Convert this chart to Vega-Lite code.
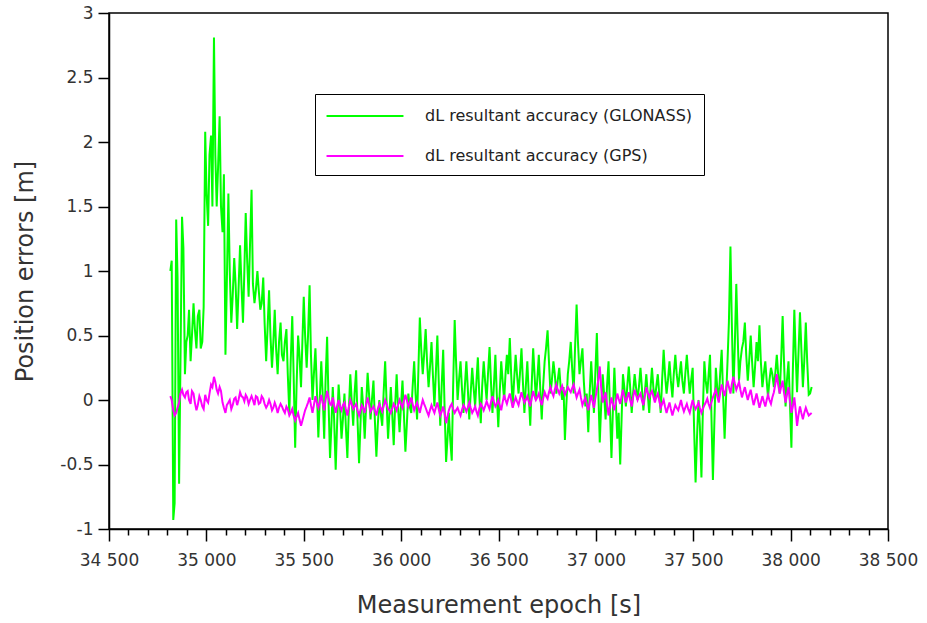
{
  "$schema": "https://vega.github.io/schema/vega-lite/v6.json",
  "width": 779,
  "height": 516,
  "autosize": {"type": "none"},
  "padding": {"left": 109, "top": 13, "right": 39, "bottom": 94},
  "background": "white",
  "config": {
    "view": {"stroke": "black", "strokeWidth": 1.5},
    "font": "DejaVu Sans"
  },
  "data": {
    "values": [
      {"t":34815,"GLONASS":1.0,"GPS":0.03},{"t":34830,"GLONASS":-0.93,"GPS":-0.08},{"t":34845,"GLONASS":1.4,"GPS":-0.1},{"t":34860,"GLONASS":-0.65,"GPS":-0.02},
      {"t":34875,"GLONASS":1.42,"GPS":0.08},{"t":34890,"GLONASS":0.2,"GPS":0.02},{"t":34904,"GLONASS":0.5,"GPS":0.07},{"t":34919,"GLONASS":0.3,"GPS":-0.03},
      {"t":34934,"GLONASS":0.75,"GPS":0.05},{"t":34949,"GLONASS":0.4,"GPS":-0.08},{"t":34964,"GLONASS":0.7,"GPS":0.03},{"t":34979,"GLONASS":0.45,"GPS":-0.05},
      {"t":34994,"GLONASS":2.08,"GPS":0.04},{"t":35009,"GLONASS":1.35,"GPS":-0.02},{"t":35024,"GLONASS":2.05,"GPS":0.12},{"t":35039,"GLONASS":2.81,"GPS":0.18},
      {"t":35053,"GLONASS":1.5,"GPS":0.08},{"t":35068,"GLONASS":2.2,"GPS":0.1},{"t":35083,"GLONASS":1.3,"GPS":-0.02},{"t":35098,"GLONASS":0.35,"GPS":-0.1},
      {"t":35113,"GLONASS":1.6,"GPS":-0.02},{"t":35128,"GLONASS":0.6,"GPS":-0.07},{"t":35143,"GLONASS":1.1,"GPS":0.01},{"t":35158,"GLONASS":0.55,"GPS":-0.04},
      {"t":35173,"GLONASS":1.2,"GPS":0.06},{"t":35188,"GLONASS":0.6,"GPS":0.02},{"t":35202,"GLONASS":1.45,"GPS":0.04},{"t":35217,"GLONASS":0.8,"GPS":-0.03},
      {"t":35232,"GLONASS":1.63,"GPS":0.03},{"t":35247,"GLONASS":0.75,"GPS":-0.04},{"t":35262,"GLONASS":1.0,"GPS":0.02},{"t":35277,"GLONASS":0.7,"GPS":-0.02},
      {"t":35292,"GLONASS":0.95,"GPS":0.01},{"t":35307,"GLONASS":0.3,"GPS":-0.06},{"t":35322,"GLONASS":0.85,"GPS":0.0},{"t":35337,"GLONASS":0.25,"GPS":-0.08},
      {"t":35351,"GLONASS":0.7,"GPS":-0.02},{"t":35366,"GLONASS":0.2,"GPS":-0.1},{"t":35381,"GLONASS":0.6,"GPS":-0.03},{"t":35396,"GLONASS":0.3,"GPS":-0.08},
      {"t":35411,"GLONASS":0.55,"GPS":-0.05},{"t":35426,"GLONASS":-0.1,"GPS":-0.12},{"t":35441,"GLONASS":0.65,"GPS":-0.07},{"t":35456,"GLONASS":-0.37,"GPS":-0.16},
      {"t":35471,"GLONASS":0.5,"GPS":-0.1},{"t":35486,"GLONASS":0.1,"GPS":-0.2},{"t":35500,"GLONASS":0.8,"GPS":-0.12},{"t":35515,"GLONASS":0.25,"GPS":-0.05},
      {"t":35530,"GLONASS":0.89,"GPS":0.02},{"t":35545,"GLONASS":0.0,"GPS":-0.1},{"t":35560,"GLONASS":0.4,"GPS":0.03},{"t":35575,"GLONASS":-0.29,"GPS":-0.06},
      {"t":35590,"GLONASS":0.3,"GPS":0.04},{"t":35605,"GLONASS":-0.3,"GPS":-0.08},{"t":35620,"GLONASS":0.49,"GPS":0.07},{"t":35635,"GLONASS":-0.45,"GPS":-0.03},
      {"t":35649,"GLONASS":0.1,"GPS":0.02},{"t":35664,"GLONASS":-0.54,"GPS":-0.1},{"t":35679,"GLONASS":0.12,"GPS":0.0},{"t":35694,"GLONASS":-0.3,"GPS":-0.08},
      {"t":35709,"GLONASS":0.05,"GPS":-0.02},{"t":35724,"GLONASS":-0.45,"GPS":-0.12},{"t":35739,"GLONASS":0.2,"GPS":0.0},{"t":35754,"GLONASS":-0.2,"GPS":-0.07},
      {"t":35769,"GLONASS":0.23,"GPS":-0.03},{"t":35784,"GLONASS":-0.49,"GPS":-0.12},{"t":35798,"GLONASS":0.1,"GPS":-0.04},{"t":35813,"GLONASS":-0.3,"GPS":-0.1},
      {"t":35828,"GLONASS":0.21,"GPS":0.02},{"t":35843,"GLONASS":-0.15,"GPS":-0.09},{"t":35858,"GLONASS":0.15,"GPS":-0.05},{"t":35873,"GLONASS":-0.44,"GPS":-0.12},
      {"t":35888,"GLONASS":0.0,"GPS":-0.03},{"t":35903,"GLONASS":-0.2,"GPS":-0.09},{"t":35918,"GLONASS":0.3,"GPS":0.0},{"t":35933,"GLONASS":-0.3,"GPS":-0.07},
      {"t":35947,"GLONASS":0.1,"GPS":-0.1},{"t":35962,"GLONASS":-0.35,"GPS":-0.03},{"t":35977,"GLONASS":0.2,"GPS":-0.08},{"t":35992,"GLONASS":-0.25,"GPS":0.0},
      {"t":36007,"GLONASS":0.15,"GPS":-0.06},{"t":36022,"GLONASS":-0.4,"GPS":0.04},{"t":36037,"GLONASS":0.05,"GPS":-0.05},{"t":36052,"GLONASS":-0.1,"GPS":0.02},
      {"t":36067,"GLONASS":0.3,"GPS":-0.08},{"t":36082,"GLONASS":-0.15,"GPS":-0.02},{"t":36096,"GLONASS":0.64,"GPS":-0.1},{"t":36111,"GLONASS":0.2,"GPS":0.0},
      {"t":36126,"GLONASS":0.55,"GPS":-0.06},{"t":36141,"GLONASS":0.1,"GPS":-0.12},{"t":36156,"GLONASS":0.45,"GPS":-0.04},{"t":36171,"GLONASS":-0.05,"GPS":-0.1},
      {"t":36186,"GLONASS":0.5,"GPS":-0.02},{"t":36201,"GLONASS":-0.2,"GPS":-0.12},{"t":36216,"GLONASS":0.39,"GPS":-0.05},{"t":36231,"GLONASS":-0.48,"GPS":-0.18},
      {"t":36245,"GLONASS":-0.1,"GPS":-0.08},{"t":36260,"GLONASS":-0.47,"GPS":-0.03},{"t":36275,"GLONASS":0.62,"GPS":-0.1},{"t":36290,"GLONASS":0.0,"GPS":-0.06},
      {"t":36305,"GLONASS":0.3,"GPS":-0.12},{"t":36320,"GLONASS":-0.1,"GPS":-0.04},{"t":36335,"GLONASS":0.3,"GPS":-0.09},{"t":36350,"GLONASS":-0.15,"GPS":-0.02},
      {"t":36365,"GLONASS":0.25,"GPS":-0.1},{"t":36380,"GLONASS":-0.05,"GPS":-0.05},{"t":36394,"GLONASS":0.33,"GPS":-0.12},{"t":36409,"GLONASS":-0.18,"GPS":-0.03},
      {"t":36424,"GLONASS":0.3,"GPS":-0.08},{"t":36439,"GLONASS":0.0,"GPS":-0.01},{"t":36454,"GLONASS":0.41,"GPS":-0.07},{"t":36469,"GLONASS":-0.1,"GPS":0.03},
      {"t":36484,"GLONASS":0.35,"GPS":-0.05},{"t":36499,"GLONASS":-0.21,"GPS":0.0},{"t":36514,"GLONASS":0.3,"GPS":-0.08},{"t":36529,"GLONASS":0.0,"GPS":0.04},
      {"t":36543,"GLONASS":0.35,"GPS":-0.03},{"t":36558,"GLONASS":0.48,"GPS":0.05},{"t":36573,"GLONASS":-0.05,"GPS":-0.06},{"t":36588,"GLONASS":0.35,"GPS":0.02},
      {"t":36603,"GLONASS":0.05,"GPS":-0.04},{"t":36618,"GLONASS":0.4,"GPS":0.06},{"t":36633,"GLONASS":-0.1,"GPS":-0.02},{"t":36648,"GLONASS":0.3,"GPS":0.03},
      {"t":36663,"GLONASS":-0.2,"GPS":-0.05},{"t":36678,"GLONASS":0.4,"GPS":0.07},{"t":36692,"GLONASS":0.0,"GPS":0.0},{"t":36707,"GLONASS":0.35,"GPS":0.05},
      {"t":36722,"GLONASS":-0.15,"GPS":-0.04},{"t":36737,"GLONASS":0.3,"GPS":0.06},{"t":36752,"GLONASS":0.54,"GPS":0.01},{"t":36767,"GLONASS":0.05,"GPS":0.1},
      {"t":36782,"GLONASS":0.3,"GPS":0.03},{"t":36797,"GLONASS":0.05,"GPS":0.12},{"t":36812,"GLONASS":0.25,"GPS":0.05},{"t":36827,"GLONASS":0.0,"GPS":0.11},
      {"t":36841,"GLONASS":-0.31,"GPS":0.04},{"t":36856,"GLONASS":0.2,"GPS":0.1},{"t":36871,"GLONASS":0.45,"GPS":0.06},{"t":36886,"GLONASS":0.05,"GPS":0.12},
      {"t":36901,"GLONASS":0.74,"GPS":0.02},{"t":36916,"GLONASS":0.2,"GPS":0.08},{"t":36931,"GLONASS":0.4,"GPS":-0.04},{"t":36946,"GLONASS":-0.05,"GPS":0.02},
      {"t":36961,"GLONASS":-0.25,"GPS":-0.08},{"t":36976,"GLONASS":0.3,"GPS":0.04},{"t":36990,"GLONASS":-0.1,"GPS":-0.06},{"t":37005,"GLONASS":0.52,"GPS":0.08},
      {"t":37020,"GLONASS":-0.33,"GPS":0.26},{"t":37035,"GLONASS":0.2,"GPS":-0.02},{"t":37050,"GLONASS":-0.15,"GPS":0.06},{"t":37065,"GLONASS":0.3,"GPS":-0.12},
      {"t":37080,"GLONASS":-0.45,"GPS":0.02},{"t":37095,"GLONASS":0.25,"GPS":-0.08},{"t":37110,"GLONASS":-0.3,"GPS":0.05},{"t":37125,"GLONASS":-0.5,"GPS":-0.03},
      {"t":37139,"GLONASS":0.2,"GPS":0.08},{"t":37154,"GLONASS":-0.05,"GPS":-0.02},{"t":37169,"GLONASS":0.26,"GPS":0.06},{"t":37184,"GLONASS":-0.1,"GPS":-0.05},
      {"t":37199,"GLONASS":0.2,"GPS":0.08},{"t":37214,"GLONASS":0.0,"GPS":0.0},{"t":37229,"GLONASS":0.25,"GPS":0.05},{"t":37244,"GLONASS":-0.08,"GPS":-0.04},
      {"t":37259,"GLONASS":0.2,"GPS":0.1},{"t":37274,"GLONASS":-0.1,"GPS":0.02},{"t":37288,"GLONASS":0.25,"GPS":0.07},{"t":37303,"GLONASS":0.0,"GPS":-0.02},
      {"t":37318,"GLONASS":0.2,"GPS":0.05},{"t":37333,"GLONASS":-0.1,"GPS":-0.06},{"t":37348,"GLONASS":0.39,"GPS":0.0},{"t":37363,"GLONASS":0.05,"GPS":-0.1},
      {"t":37378,"GLONASS":0.3,"GPS":-0.02},{"t":37393,"GLONASS":0.02,"GPS":-0.12},{"t":37408,"GLONASS":0.35,"GPS":-0.04},{"t":37423,"GLONASS":0.1,"GPS":-0.08},
      {"t":37437,"GLONASS":0.3,"GPS":0.0},{"t":37452,"GLONASS":0.05,"GPS":-0.09},{"t":37467,"GLONASS":0.35,"GPS":-0.03},{"t":37482,"GLONASS":0.05,"GPS":-0.1},
      {"t":37497,"GLONASS":0.25,"GPS":0.0},{"t":37512,"GLONASS":-0.64,"GPS":-0.07},{"t":37527,"GLONASS":0.0,"GPS":-0.02},{"t":37542,"GLONASS":-0.6,"GPS":-0.1},
      {"t":37557,"GLONASS":0.3,"GPS":-0.04},{"t":37572,"GLONASS":0.05,"GPS":0.01},{"t":37586,"GLONASS":0.35,"GPS":-0.06},{"t":37601,"GLONASS":-0.62,"GPS":0.02},
      {"t":37616,"GLONASS":0.25,"GPS":0.08},{"t":37631,"GLONASS":0.0,"GPS":-0.02},{"t":37646,"GLONASS":0.39,"GPS":0.12},{"t":37661,"GLONASS":-0.3,"GPS":0.03},
      {"t":37676,"GLONASS":0.3,"GPS":0.15},{"t":37691,"GLONASS":1.19,"GPS":0.05},{"t":37706,"GLONASS":0.05,"GPS":0.18},{"t":37721,"GLONASS":0.9,"GPS":0.08},
      {"t":37735,"GLONASS":0.15,"GPS":0.14},{"t":37750,"GLONASS":0.4,"GPS":0.02},{"t":37765,"GLONASS":0.6,"GPS":0.1},{"t":37780,"GLONASS":0.15,"GPS":0.0},
      {"t":37795,"GLONASS":0.5,"GPS":0.08},{"t":37810,"GLONASS":0.1,"GPS":-0.04},{"t":37825,"GLONASS":0.45,"GPS":0.05},{"t":37840,"GLONASS":0.58,"GPS":-0.06},
      {"t":37855,"GLONASS":0.1,"GPS":0.03},{"t":37870,"GLONASS":0.3,"GPS":-0.05},{"t":37884,"GLONASS":0.02,"GPS":0.04},{"t":37899,"GLONASS":0.25,"GPS":-0.03},
      {"t":37914,"GLONASS":0.1,"GPS":0.06},{"t":37929,"GLONASS":0.35,"GPS":0.2},{"t":37944,"GLONASS":0.05,"GPS":0.05},{"t":37959,"GLONASS":0.65,"GPS":0.15},
      {"t":37974,"GLONASS":-0.05,"GPS":-0.02},{"t":37989,"GLONASS":0.3,"GPS":0.1},{"t":38004,"GLONASS":-0.37,"GPS":-0.1},{"t":38019,"GLONASS":0.7,"GPS":0.02},
      {"t":38033,"GLONASS":0.06,"GPS":-0.2},{"t":38048,"GLONASS":0.68,"GPS":-0.05},{"t":38063,"GLONASS":0.1,"GPS":-0.15},{"t":38078,"GLONASS":0.6,"GPS":-0.06},
      {"t":38093,"GLONASS":0.04,"GPS":-0.12},{"t":38108,"GLONASS":0.1,"GPS":-0.1},

      {"t":34822,"GLONASS":1.08,"GPS":0.0},{"t":34837,"GLONASS":-0.8,"GPS":-0.12},{"t":34852,"GLONASS":0.95,"GPS":-0.06},{"t":34867,"GLONASS":0.3,"GPS":0.05},
      {"t":34882,"GLONASS":1.18,"GPS":0.04},{"t":34897,"GLONASS":0.45,"GPS":0.06},{"t":34911,"GLONASS":0.7,"GPS":0.0},{"t":34926,"GLONASS":0.5,"GPS":0.07},
      {"t":34941,"GLONASS":0.55,"GPS":-0.02},{"t":34956,"GLONASS":0.65,"GPS":-0.04},{"t":34971,"GLONASS":0.4,"GPS":0.0},{"t":34986,"GLONASS":0.72,"GPS":-0.07},
      {"t":35001,"GLONASS":1.6,"GPS":0.0},{"t":35016,"GLONASS":1.9,"GPS":0.05},{"t":35031,"GLONASS":1.5,"GPS":0.1},{"t":35046,"GLONASS":1.9,"GPS":0.14},
      {"t":35060,"GLONASS":1.8,"GPS":0.05},{"t":35075,"GLONASS":1.5,"GPS":0.07},{"t":35090,"GLONASS":1.75,"GPS":-0.06},{"t":35105,"GLONASS":0.9,"GPS":-0.04},
      {"t":35120,"GLONASS":1.0,"GPS":0.0},{"t":35135,"GLONASS":0.8,"GPS":-0.04},{"t":35150,"GLONASS":0.9,"GPS":0.02},{"t":35165,"GLONASS":0.85,"GPS":0.0},
      {"t":35180,"GLONASS":0.9,"GPS":0.03},{"t":35195,"GLONASS":1.0,"GPS":-0.01},{"t":35209,"GLONASS":1.1,"GPS":0.02},{"t":35224,"GLONASS":1.2,"GPS":0.0},
      {"t":35239,"GLONASS":0.9,"GPS":0.0},{"t":35254,"GLONASS":0.85,"GPS":0.03},{"t":35269,"GLONASS":0.85,"GPS":-0.03},{"t":35284,"GLONASS":0.75,"GPS":0.03},
      {"t":35299,"GLONASS":0.6,"GPS":-0.03},{"t":35314,"GLONASS":0.55,"GPS":-0.04},{"t":35329,"GLONASS":0.5,"GPS":-0.03},{"t":35344,"GLONASS":0.45,"GPS":-0.06},
      {"t":35358,"GLONASS":0.4,"GPS":-0.05},{"t":35373,"GLONASS":0.45,"GPS":-0.06},{"t":35388,"GLONASS":0.35,"GPS":-0.05},{"t":35403,"GLONASS":0.45,"GPS":-0.1},
      {"t":35418,"GLONASS":0.2,"GPS":-0.07},{"t":35433,"GLONASS":0.3,"GPS":-0.1},{"t":35448,"GLONASS":0.2,"GPS":-0.12},{"t":35463,"GLONASS":0.1,"GPS":-0.13},
      {"t":35478,"GLONASS":0.35,"GPS":-0.15},{"t":35493,"GLONASS":0.45,"GPS":-0.16},{"t":35507,"GLONASS":0.5,"GPS":-0.08},{"t":35522,"GLONASS":0.5,"GPS":-0.02},
      {"t":35537,"GLONASS":0.35,"GPS":-0.04},{"t":35552,"GLONASS":0.2,"GPS":-0.04},{"t":35567,"GLONASS":0.1,"GPS":-0.02},{"t":35582,"GLONASS":0.0,"GPS":-0.02},
      {"t":35597,"GLONASS":0.05,"GPS":-0.02},{"t":35612,"GLONASS":0.15,"GPS":0.0},{"t":35627,"GLONASS":0.0,"GPS":0.02},{"t":35642,"GLONASS":-0.2,"GPS":-0.04},
      {"t":35656,"GLONASS":-0.15,"GPS":-0.04},{"t":35671,"GLONASS":-0.2,"GPS":-0.05},{"t":35686,"GLONASS":-0.05,"GPS":-0.05},{"t":35701,"GLONASS":-0.15,"GPS":-0.04},
      {"t":35716,"GLONASS":-0.2,"GPS":-0.07},{"t":35731,"GLONASS":-0.1,"GPS":-0.06},{"t":35746,"GLONASS":0.0,"GPS":-0.03},{"t":35761,"GLONASS":0.05,"GPS":-0.05},
      {"t":35776,"GLONASS":-0.15,"GPS":-0.08},{"t":35791,"GLONASS":-0.2,"GPS":-0.08},{"t":35805,"GLONASS":-0.05,"GPS":-0.06},{"t":35820,"GLONASS":-0.05,"GPS":-0.04},
      {"t":35835,"GLONASS":0.05,"GPS":-0.03},{"t":35850,"GLONASS":0.0,"GPS":-0.07},{"t":35865,"GLONASS":-0.15,"GPS":-0.08},{"t":35880,"GLONASS":-0.2,"GPS":-0.07},
      {"t":35895,"GLONASS":-0.1,"GPS":-0.06},{"t":35910,"GLONASS":0.05,"GPS":-0.05},{"t":35925,"GLONASS":0.0,"GPS":-0.03},{"t":35940,"GLONASS":-0.1,"GPS":-0.08},
      {"t":35954,"GLONASS":-0.1,"GPS":-0.07},{"t":35969,"GLONASS":-0.05,"GPS":-0.05},{"t":35984,"GLONASS":-0.05,"GPS":-0.04},{"t":35999,"GLONASS":-0.05,"GPS":-0.03},
      {"t":36014,"GLONASS":-0.1,"GPS":-0.01},{"t":36029,"GLONASS":-0.2,"GPS":0.0},{"t":36044,"GLONASS":-0.05,"GPS":-0.02},{"t":36059,"GLONASS":0.1,"GPS":-0.03},
      {"t":36074,"GLONASS":0.05,"GPS":-0.05},{"t":36089,"GLONASS":0.25,"GPS":-0.06},{"t":36103,"GLONASS":0.4,"GPS":-0.05},{"t":36118,"GLONASS":0.35,"GPS":-0.03},
      {"t":36133,"GLONASS":0.3,"GPS":-0.09},{"t":36148,"GLONASS":0.25,"GPS":-0.08},{"t":36163,"GLONASS":0.2,"GPS":-0.07},{"t":36178,"GLONASS":0.2,"GPS":-0.06},
      {"t":36193,"GLONASS":0.15,"GPS":-0.07},{"t":36208,"GLONASS":0.1,"GPS":-0.09},{"t":36223,"GLONASS":-0.05,"GPS":-0.1},{"t":36238,"GLONASS":-0.3,"GPS":-0.13},
      {"t":36252,"GLONASS":-0.3,"GPS":-0.05},{"t":36267,"GLONASS":0.1,"GPS":-0.07},{"t":36282,"GLONASS":0.3,"GPS":-0.08},{"t":36297,"GLONASS":0.15,"GPS":-0.09},
      {"t":36312,"GLONASS":0.1,"GPS":-0.08},{"t":36327,"GLONASS":0.1,"GPS":-0.06},{"t":36342,"GLONASS":0.1,"GPS":-0.06},{"t":36357,"GLONASS":0.05,"GPS":-0.06},
      {"t":36372,"GLONASS":0.1,"GPS":-0.08},{"t":36387,"GLONASS":0.15,"GPS":-0.09},{"t":36401,"GLONASS":0.05,"GPS":-0.07},{"t":36416,"GLONASS":0.1,"GPS":-0.05},
      {"t":36431,"GLONASS":0.15,"GPS":-0.05},{"t":36446,"GLONASS":0.2,"GPS":-0.04},{"t":36461,"GLONASS":0.15,"GPS":-0.02},{"t":36476,"GLONASS":0.1,"GPS":-0.01},
      {"t":36491,"GLONASS":0.05,"GPS":-0.03},{"t":36506,"GLONASS":0.05,"GPS":-0.04},{"t":36521,"GLONASS":0.15,"GPS":-0.02},{"t":36536,"GLONASS":0.2,"GPS":0.0},
      {"t":36550,"GLONASS":0.2,"GPS":0.01},{"t":36565,"GLONASS":0.2,"GPS":0.0},{"t":36580,"GLONASS":0.15,"GPS":-0.02},{"t":36595,"GLONASS":0.2,"GPS":-0.01},
      {"t":36610,"GLONASS":0.2,"GPS":0.01},{"t":36625,"GLONASS":0.15,"GPS":0.02},{"t":36640,"GLONASS":0.1,"GPS":0.0},{"t":36655,"GLONASS":0.05,"GPS":-0.01},
      {"t":36670,"GLONASS":0.1,"GPS":0.01},{"t":36685,"GLONASS":0.2,"GPS":0.03},{"t":36699,"GLONASS":0.15,"GPS":0.02},{"t":36714,"GLONASS":0.1,"GPS":0.0},
      {"t":36729,"GLONASS":0.1,"GPS":0.01},{"t":36744,"GLONASS":0.4,"GPS":0.03},{"t":36759,"GLONASS":0.3,"GPS":0.06},{"t":36774,"GLONASS":0.15,"GPS":0.06},
      {"t":36789,"GLONASS":0.2,"GPS":0.08},{"t":36804,"GLONASS":0.15,"GPS":0.08},{"t":36819,"GLONASS":0.1,"GPS":0.08},{"t":36834,"GLONASS":0.1,"GPS":0.07},
      {"t":36848,"GLONASS":-0.05,"GPS":0.07},{"t":36863,"GLONASS":0.3,"GPS":0.08},{"t":36878,"GLONASS":0.25,"GPS":0.09},{"t":36893,"GLONASS":0.4,"GPS":0.07},
      {"t":36908,"GLONASS":0.45,"GPS":0.05},{"t":36923,"GLONASS":0.3,"GPS":0.02},{"t":36938,"GLONASS":0.15,"GPS":-0.01},{"t":36953,"GLONASS":0.05,"GPS":-0.03},
      {"t":36968,"GLONASS":0.05,"GPS":-0.02},{"t":36983,"GLONASS":0.1,"GPS":-0.01},{"t":36997,"GLONASS":0.2,"GPS":0.01},{"t":37012,"GLONASS":0.1,"GPS":0.15},
      {"t":37027,"GLONASS":-0.05,"GPS":0.1},{"t":37042,"GLONASS":0.05,"GPS":0.02},{"t":37057,"GLONASS":0.1,"GPS":-0.03},{"t":37072,"GLONASS":-0.05,"GPS":-0.05},
      {"t":37087,"GLONASS":-0.1,"GPS":-0.03},{"t":37102,"GLONASS":0.0,"GPS":-0.02},{"t":37117,"GLONASS":-0.1,"GPS":0.01},{"t":37132,"GLONASS":-0.15,"GPS":0.03},
      {"t":37146,"GLONASS":0.1,"GPS":0.03},{"t":37161,"GLONASS":0.1,"GPS":0.02},{"t":37176,"GLONASS":0.1,"GPS":0.0},{"t":37191,"GLONASS":0.05,"GPS":0.02},
      {"t":37206,"GLONASS":0.1,"GPS":0.04},{"t":37221,"GLONASS":0.1,"GPS":0.03},{"t":37236,"GLONASS":0.1,"GPS":0.0},{"t":37251,"GLONASS":0.05,"GPS":0.03},
      {"t":37266,"GLONASS":0.05,"GPS":0.06},{"t":37281,"GLONASS":0.1,"GPS":0.05},{"t":37295,"GLONASS":0.1,"GPS":0.03},{"t":37310,"GLONASS":0.1,"GPS":0.02},
      {"t":37325,"GLONASS":0.05,"GPS":0.0},{"t":37340,"GLONASS":0.15,"GPS":-0.03},{"t":37355,"GLONASS":0.2,"GPS":-0.05},{"t":37370,"GLONASS":0.15,"GPS":-0.06},
      {"t":37385,"GLONASS":0.15,"GPS":-0.07},{"t":37400,"GLONASS":0.2,"GPS":-0.08},{"t":37415,"GLONASS":0.2,"GPS":-0.06},{"t":37430,"GLONASS":0.2,"GPS":-0.04},
      {"t":37444,"GLONASS":0.15,"GPS":-0.05},{"t":37459,"GLONASS":0.2,"GPS":-0.06},{"t":37474,"GLONASS":0.2,"GPS":-0.07},{"t":37489,"GLONASS":0.15,"GPS":-0.05},
      {"t":37504,"GLONASS":-0.2,"GPS":-0.04},{"t":37519,"GLONASS":-0.3,"GPS":-0.05},{"t":37534,"GLONASS":-0.2,"GPS":-0.06},{"t":37549,"GLONASS":-0.1,"GPS":-0.07},
      {"t":37564,"GLONASS":0.15,"GPS":-0.02},{"t":37579,"GLONASS":0.2,"GPS":-0.03},{"t":37593,"GLONASS":-0.1,"GPS":-0.02},{"t":37608,"GLONASS":-0.2,"GPS":0.05},
      {"t":37623,"GLONASS":0.1,"GPS":0.03},{"t":37638,"GLONASS":0.2,"GPS":0.05},{"t":37653,"GLONASS":0.05,"GPS":0.08},{"t":37668,"GLONASS":0.0,"GPS":0.09},
      {"t":37683,"GLONASS":0.6,"GPS":0.1},{"t":37698,"GLONASS":0.6,"GPS":0.12},{"t":37713,"GLONASS":0.4,"GPS":0.13},{"t":37728,"GLONASS":0.5,"GPS":0.11},
      {"t":37742,"GLONASS":0.3,"GPS":0.08},{"t":37757,"GLONASS":0.45,"GPS":0.06},{"t":37772,"GLONASS":0.35,"GPS":0.05},{"t":37787,"GLONASS":0.3,"GPS":0.04},
      {"t":37802,"GLONASS":0.3,"GPS":0.02},{"t":37817,"GLONASS":0.25,"GPS":0.0},{"t":37832,"GLONASS":0.3,"GPS":0.0},{"t":37847,"GLONASS":0.3,"GPS":-0.02},
      {"t":37862,"GLONASS":0.2,"GPS":-0.01},{"t":37877,"GLONASS":0.15,"GPS":0.0},{"t":37891,"GLONASS":0.15,"GPS":0.0},{"t":37906,"GLONASS":0.2,"GPS":0.02},
      {"t":37921,"GLONASS":0.2,"GPS":0.12},{"t":37936,"GLONASS":0.2,"GPS":0.12},{"t":37951,"GLONASS":0.3,"GPS":0.1},{"t":37966,"GLONASS":0.3,"GPS":0.06},
      {"t":37981,"GLONASS":0.15,"GPS":0.04},{"t":37996,"GLONASS":0.0,"GPS":0.0},{"t":38011,"GLONASS":0.2,"GPS":-0.05},{"t":38026,"GLONASS":0.35,"GPS":-0.08},
      {"t":38040,"GLONASS":0.35,"GPS":-0.12},{"t":38055,"GLONASS":0.4,"GPS":-0.1},{"t":38070,"GLONASS":0.3,"GPS":-0.1},{"t":38085,"GLONASS":0.3,"GPS":-0.09},
      {"t":38100,"GLONASS":0.05,"GPS":-0.11}
    ]
  },
  "transform": [
    {"fold": ["GLONASS", "GPS"], "as": ["system", "error"]}
  ],
  "layer": [
    {
      "transform": [{"filter": "datum.system === 'GLONASS'"}],
      "mark": {"type": "line", "strokeWidth": 2, "clip": true},
      "encoding": {
        "x": {
          "field": "t",
          "type": "quantitative",
          "scale": {"domain": [34500, 38500], "nice": false, "zero": false},
          "axis": {
            "orient": "bottom",
            "title": "Measurement epoch [s]",
            "values": [34500, 35000, 35500, 36000, 36500, 37000, 37500, 38000, 38500],
            "labelExpr": "replace(format(datum.value, ','), ',', ' ')",
            "labelOverlap": false,
            "labelFlush": false,
            "labelFont": "DejaVu Sans",
            "labelFontSize": 17,
            "labelColor": "#333333",
            "labelPadding": 11,
            "tickSize": 12,
            "tickColor": "black",
            "tickWidth": 1.5,
            "domainColor": "black",
            "domainWidth": 1.5,
            "grid": false,
            "titleFont": "DejaVu Sans",
            "titleFontSize": 24,
            "titleFontWeight": "normal",
            "titleColor": "#333333",
            "titlePadding": 25
          }
        },
        "y": {
          "field": "error",
          "type": "quantitative",
          "scale": {"domain": [-1, 3], "nice": false, "zero": false},
          "axis": {
            "title": "Position errors [m]",
            "values": [-1, -0.5, 0, 0.5, 1, 1.5, 2, 2.5, 3],
            "labelExpr": "'' + datum.value",
            "labelFont": "DejaVu Sans",
            "labelFontSize": 17,
            "labelColor": "#333333",
            "labelPadding": 5,
            "labelFlush": false,
            "tickSize": 11,
            "tickColor": "black",
            "tickWidth": 1.5,
            "domainColor": "black",
            "domainWidth": 1.5,
            "grid": false,
            "titleFont": "DejaVu Sans",
            "titleFontSize": 24,
            "titleFontWeight": "normal",
            "titleColor": "#333333",
            "titlePadding": 22
          }
        },
        "color": {
          "field": "system",
          "type": "nominal",
          "scale": {"domain": ["GLONASS", "GPS"], "range": ["#00ff00", "#ff00ff"]},
          "legend": {
            "title": null,
            "orient": "none",
            "legendX": 206,
            "legendY": 81,
            "labelExpr": "'dL resultant accuracy (' + datum.label + ')'",
            "labelFont": "DejaVu Sans",
            "labelFontSize": 16,
            "labelLimit": 500,
            "labelColor": "#222222",
            "symbolType": "M-4,0H4",
            "symbolSize": 370,
            "symbolStrokeWidth": 2,
            "symbolOffset": 28,
            "labelOffset": 49,
            "rowPadding": 21,
            "padding": 11,
            "strokeColor": "black",
            "fillColor": "white",
            "cornerRadius": 0
          }
        }
      }
    },
    {
      "transform": [{"filter": "datum.system === 'GPS'"}],
      "mark": {"type": "line", "strokeWidth": 2, "clip": true},
      "encoding": {
        "x": {
          "field": "t",
          "type": "quantitative",
          "scale": {"domain": [34500, 38500], "nice": false, "zero": false},
          "axis": {
            "orient": "bottom",
            "title": null,
            "values": [34600, 34700, 34800, 34900, 35100, 35200, 35300, 35400, 35600, 35700, 35800, 35900, 36100, 36200, 36300, 36400, 36600, 36700, 36800, 36900, 37100, 37200, 37300, 37400, 37600, 37700, 37800, 37900, 38100, 38200, 38300, 38400],
            "labels": false,
            "tickSize": 6,
            "tickColor": "black",
            "tickWidth": 1.5,
            "domain": false,
            "grid": false
          }
        },
        "y": {"field": "error", "type": "quantitative"},
        "color": {"field": "system", "type": "nominal"}
      }
    }
  ],
  "resolve": {"axis": {"x": "independent"}}
}
